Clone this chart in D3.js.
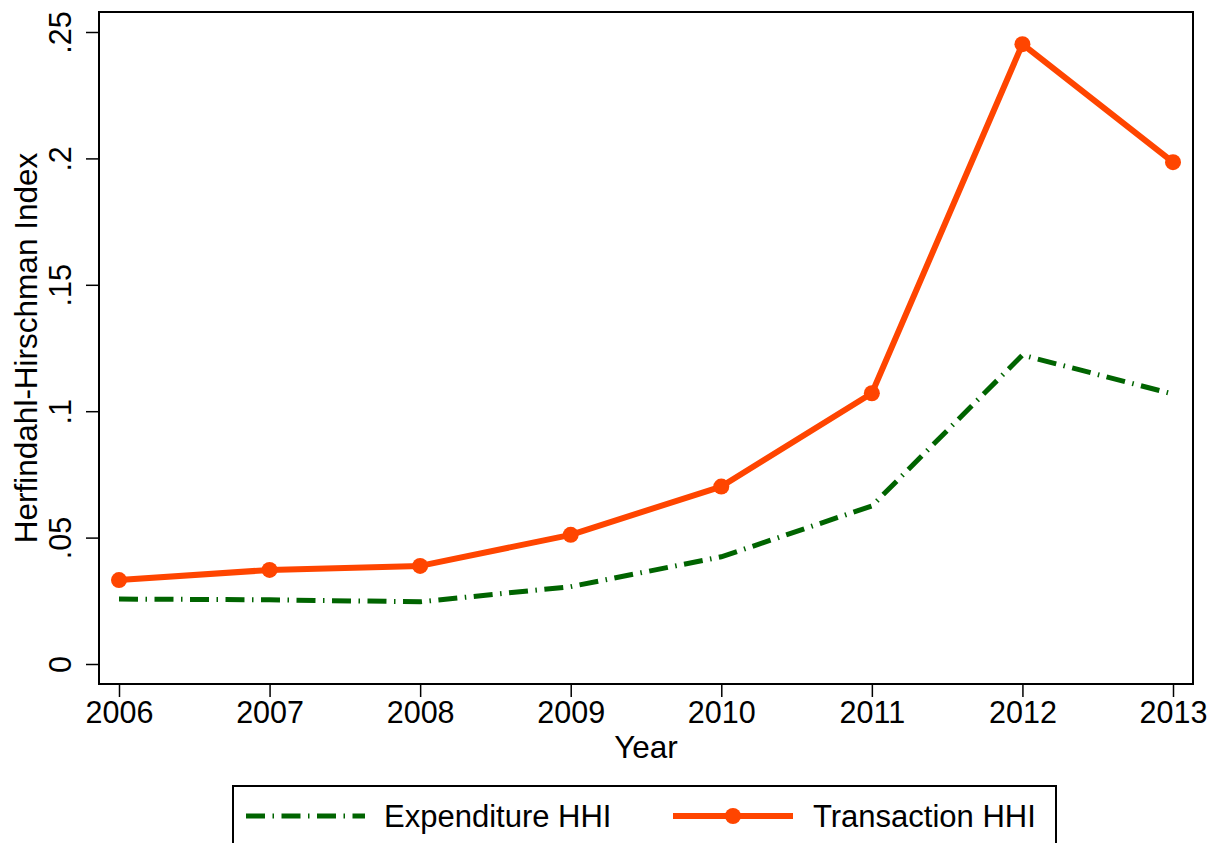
<!DOCTYPE html>
<html>
<head>
<meta charset="utf-8">
<script src="https://cdn.jsdelivr.net/npm/d3@7"></script>
<style>
  body { margin: 0; background: #fff; }
  svg { display: block; font-family: "Liberation Sans", Arial, sans-serif; }
</style>
</head>
<body>
<script>
const years = [2006, 2007, 2008, 2009, 2010, 2011, 2012, 2013];
const expenditureHHI = [0.0257, 0.0254, 0.0246, 0.0306, 0.0424, 0.0625, 0.1222, 0.1068];
const transactionHHI = [0.0332, 0.0372, 0.0388, 0.0511, 0.0702, 0.1071, 0.2452, 0.1985];
const yTicks = [0, 0.05, 0.1, 0.15, 0.2, 0.25];
const yTickLabels = ["0", ".05", ".1", ".15", ".2", ".25"];
const seriesNames = ["Expenditure HHI", "Transaction HHI"];

const width = 1213, height = 843;
const frame = { left: 99, right: 1193, top: 12, bottom: 684 };

const green = "#006400";
const orange = "#ff4500";

const svg = d3.select("body")
  .append("svg")
  .attr("width", width)
  .attr("height", height);

const x = d3.scaleLinear()
  .domain([2006, 2013])
  .range([119, 1173]);

const y = d3.scaleLinear()
  .domain([0, 0.25])
  .range([664, 32]);

// plot frame
svg.append("rect")
  .attr("x", frame.left)
  .attr("y", frame.top)
  .attr("width", frame.right - frame.left)
  .attr("height", frame.bottom - frame.top)
  .attr("fill", "none")
  .attr("stroke", "#000")
  .attr("stroke-width", 2);

// x axis
const xAxis = svg.append("g")
  .attr("transform", `translate(0, ${frame.bottom + 1})`)
  .call(d3.axisBottom(x).tickValues(years).tickFormat(d3.format("d")).tickSize(12).tickPadding(4));
xAxis.select(".domain").remove();
xAxis.selectAll(".tick line").attr("stroke", "#000").attr("stroke-width", 1.5);
xAxis.selectAll(".tick text")
  .attr("fill", "#000")
  .style("font-size", "30.5px")
  .style("font-family", "Liberation Sans, Arial, sans-serif");

// y axis
const yAxis = svg.append("g")
  .attr("transform", `translate(${frame.left - 1}, 0)`)
  .call(d3.axisLeft(y).tickValues(yTicks).tickFormat((d, i) => yTickLabels[i]).tickSize(12));
yAxis.select(".domain").remove();
yAxis.selectAll(".tick line").attr("stroke", "#000").attr("stroke-width", 1.5);
yAxis.selectAll(".tick text")
  .attr("x", null)
  .attr("dy", null)
  .attr("fill", "#000")
  .attr("text-anchor", "middle")
  .attr("transform", "translate(-27, 0) rotate(-90)")
  .style("font-size", "30.5px")
  .style("font-family", "Liberation Sans, Arial, sans-serif");

// axis titles
svg.append("text")
  .attr("x", (frame.left + frame.right) / 2)
  .attr("y", 758)
  .attr("text-anchor", "middle")
  .style("font-size", "31.5px")
  .text("Year");

svg.append("text")
  .attr("transform", `translate(37, ${(frame.top + frame.bottom) / 2}) rotate(-90)`)
  .attr("text-anchor", "middle")
  .style("font-size", "31.5px")
  .text("Herfindahl-Hirschman Index");

// lines
const line = d3.line()
  .x((d, i) => x(years[i]))
  .y(d => y(d));

svg.append("path")
  .datum(expenditureHHI)
  .attr("d", line)
  .attr("fill", "none")
  .attr("stroke", green)
  .attr("stroke-width", 5)
  .attr("stroke-dasharray", "19,7.5,1.5,7.5");

svg.append("path")
  .datum(transactionHHI)
  .attr("d", line)
  .attr("fill", "none")
  .attr("stroke", orange)
  .attr("stroke-width", 6)
  .attr("stroke-linejoin", "round");

svg.selectAll(".dot")
  .data(transactionHHI)
  .join("circle")
  .attr("class", "dot")
  .attr("cx", (d, i) => x(years[i]))
  .attr("cy", d => y(d))
  .attr("r", 8)
  .attr("fill", orange);

// legend
const legend = svg.append("g");
legend.append("rect")
  .attr("x", 233)
  .attr("y", 786)
  .attr("width", 823)
  .attr("height", 80)
  .attr("fill", "#fff")
  .attr("stroke", "#000")
  .attr("stroke-width", 2);

legend.append("line")
  .attr("x1", 246).attr("x2", 365)
  .attr("y1", 816).attr("y2", 816)
  .attr("stroke", green)
  .attr("stroke-width", 5)
  .attr("stroke-dasharray", "19,7.5,1.5,7.5");

legend.append("text")
  .attr("x", 384)
  .attr("y", 827)
  .style("font-size", "31px")
  .text(seriesNames[0]);

legend.append("line")
  .attr("x1", 673).attr("x2", 793)
  .attr("y1", 816).attr("y2", 816)
  .attr("stroke", orange)
  .attr("stroke-width", 6);

legend.append("circle")
  .attr("cx", 733)
  .attr("cy", 816)
  .attr("r", 8)
  .attr("fill", orange);

legend.append("text")
  .attr("x", 813)
  .attr("y", 827)
  .style("font-size", "31px")
  .text(seriesNames[1]);
</script>
</body>
</html>
